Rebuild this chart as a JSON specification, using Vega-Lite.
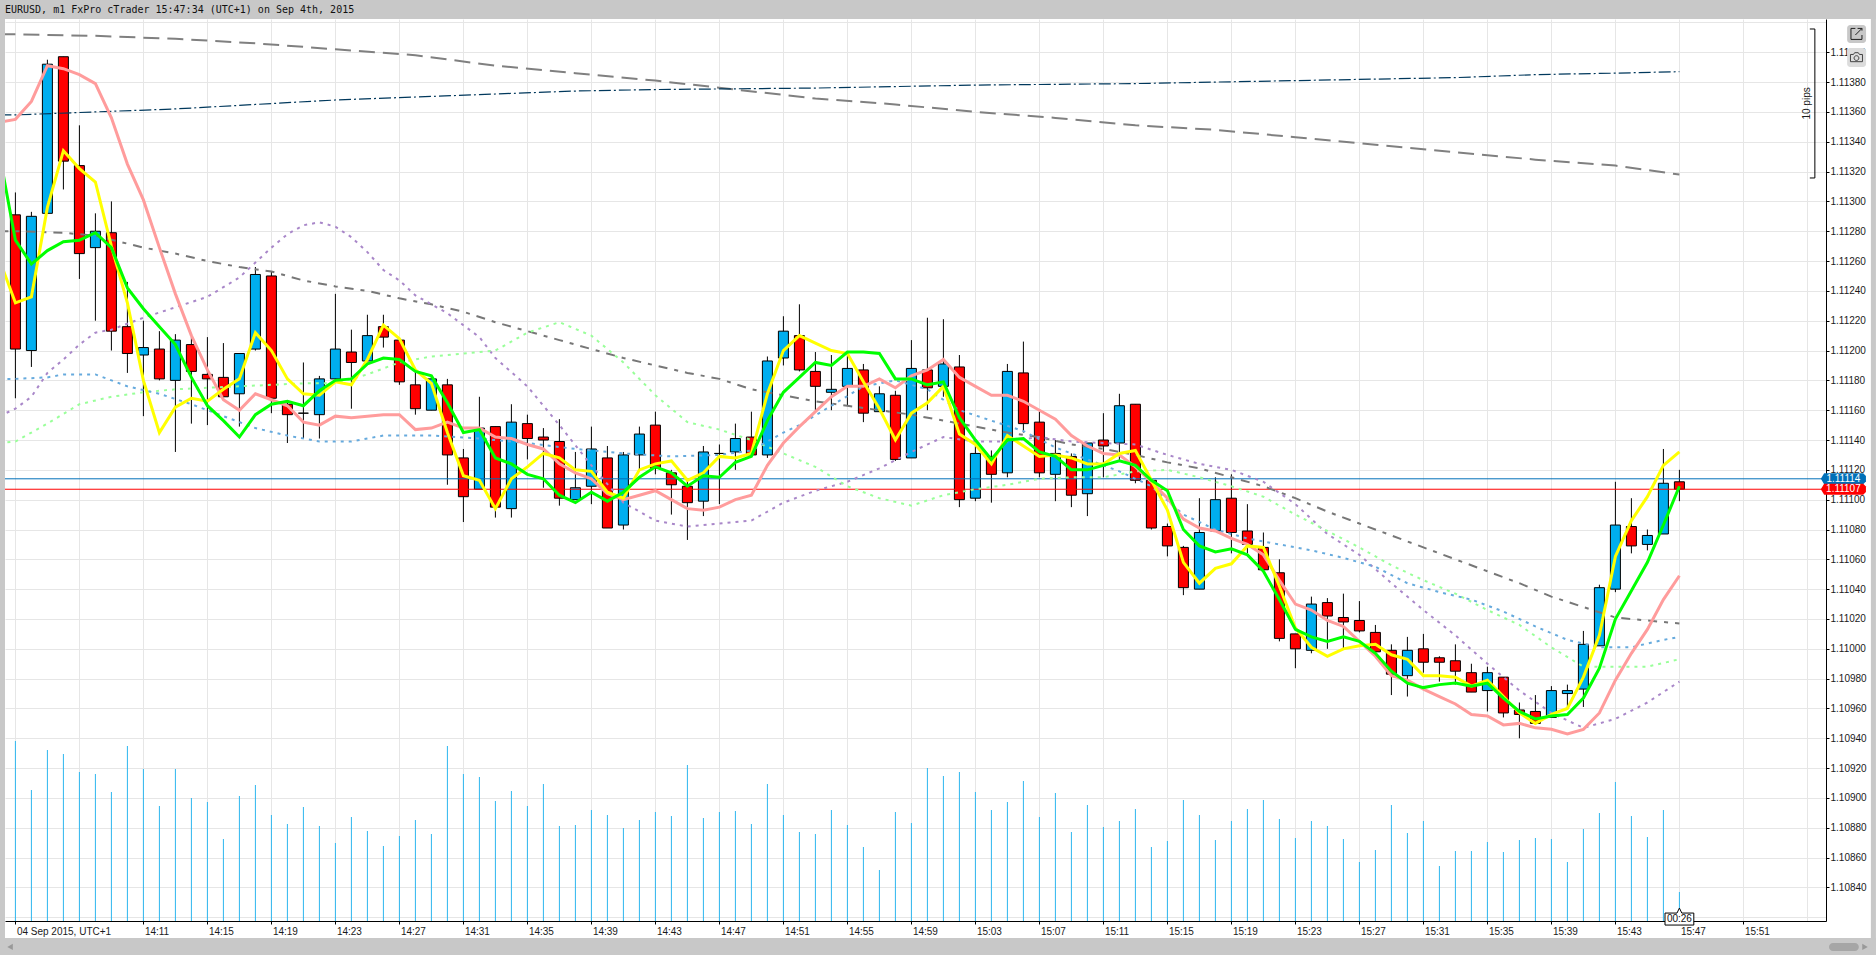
{"$schema":"https://vega.github.io/schema/vega-lite/v6.json","width":1821,"height":902,"autosize":{"type":"none"},"padding":{"left":5,"top":19,"right":50,"bottom":34},"background":"#FFFFFF","view":{"stroke":null},
"config":{"axis":{"labelFont":"Liberation Sans","labelFontSize":10,"labelColor":"#1A1A1A"}},
"datasets":{
"candles":[
{"t":"2015-09-04T14:03:00Z","open":1.11291,"high":1.11306,"low":1.11168,"close":1.11201,"volume":180},
{"t":"2015-09-04T14:04:00Z","open":1.112,"high":1.11293,"low":1.11189,"close":1.1129,"volume":131},
{"t":"2015-09-04T14:05:00Z","open":1.11292,"high":1.11395,"low":1.11292,"close":1.11392,"volume":171},
{"t":"2015-09-04T14:06:00Z","open":1.11397,"high":1.11397,"low":1.11308,"close":1.11327,"volume":167},
{"t":"2015-09-04T14:07:00Z","open":1.11324,"high":1.11351,"low":1.11248,"close":1.11265,"volume":149},
{"t":"2015-09-04T14:08:00Z","open":1.11269,"high":1.11292,"low":1.1122,"close":1.1128,"volume":147},
{"t":"2015-09-04T14:09:00Z","open":1.11279,"high":1.113,"low":1.112,"close":1.11213,"volume":129},
{"t":"2015-09-04T14:10:00Z","open":1.11216,"high":1.11246,"low":1.11185,"close":1.11198,"volume":175},
{"t":"2015-09-04T14:11:00Z","open":1.11197,"high":1.1122,"low":1.11156,"close":1.11202,"volume":152},
{"t":"2015-09-04T14:12:00Z","open":1.11201,"high":1.11213,"low":1.1118,"close":1.11181,"volume":115},
{"t":"2015-09-04T14:13:00Z","open":1.1118,"high":1.11211,"low":1.11132,"close":1.11207,"volume":152},
{"t":"2015-09-04T14:14:00Z","open":1.11204,"high":1.11209,"low":1.11151,"close":1.11186,"volume":123},
{"t":"2015-09-04T14:15:00Z","open":1.11184,"high":1.11209,"low":1.1115,"close":1.11181,"volume":119},
{"t":"2015-09-04T14:16:00Z","open":1.11182,"high":1.11205,"low":1.11168,"close":1.11169,"volume":82},
{"t":"2015-09-04T14:17:00Z","open":1.11171,"high":1.11198,"low":1.11149,"close":1.11198,"volume":125},
{"t":"2015-09-04T14:18:00Z","open":1.11201,"high":1.11256,"low":1.112,"close":1.11251,"volume":136},
{"t":"2015-09-04T14:19:00Z","open":1.1125,"high":1.11253,"low":1.11158,"close":1.11168,"volume":106},
{"t":"2015-09-04T14:20:00Z","open":1.11164,"high":1.11165,"low":1.11138,"close":1.11157,"volume":97},
{"t":"2015-09-04T14:21:00Z","open":1.11158,"high":1.11192,"low":1.11141,"close":1.11158,"volume":114},
{"t":"2015-09-04T14:22:00Z","open":1.11157,"high":1.11183,"low":1.11141,"close":1.11181,"volume":95},
{"t":"2015-09-04T14:23:00Z","open":1.11181,"high":1.11238,"low":1.11181,"close":1.11201,"volume":78},
{"t":"2015-09-04T14:24:00Z","open":1.11199,"high":1.11214,"low":1.11161,"close":1.11192,"volume":104},
{"t":"2015-09-04T14:25:00Z","open":1.11193,"high":1.11224,"low":1.11192,"close":1.1121,"volume":90},
{"t":"2015-09-04T14:26:00Z","open":1.11216,"high":1.11224,"low":1.11202,"close":1.11209,"volume":75},
{"t":"2015-09-04T14:27:00Z","open":1.11207,"high":1.11207,"low":1.11177,"close":1.11179,"volume":85},
{"t":"2015-09-04T14:28:00Z","open":1.11177,"high":1.11186,"low":1.11157,"close":1.11161,"volume":101},
{"t":"2015-09-04T14:29:00Z","open":1.1116,"high":1.11182,"low":1.1116,"close":1.11181,"volume":87},
{"t":"2015-09-04T14:30:00Z","open":1.11177,"high":1.11181,"low":1.1111,"close":1.1113,"volume":175},
{"t":"2015-09-04T14:31:00Z","open":1.11128,"high":1.11134,"low":1.11085,"close":1.11102,"volume":147},
{"t":"2015-09-04T14:32:00Z","open":1.11107,"high":1.11169,"low":1.11107,"close":1.11148,"volume":144},
{"t":"2015-09-04T14:33:00Z","open":1.11149,"high":1.11149,"low":1.11088,"close":1.11095,"volume":120},
{"t":"2015-09-04T14:34:00Z","open":1.11094,"high":1.11164,"low":1.11088,"close":1.11152,"volume":130},
{"t":"2015-09-04T14:35:00Z","open":1.11151,"high":1.11157,"low":1.11127,"close":1.11141,"volume":115},
{"t":"2015-09-04T14:36:00Z","open":1.11142,"high":1.11148,"low":1.11108,"close":1.1114,"volume":137},
{"t":"2015-09-04T14:37:00Z","open":1.11139,"high":1.11154,"low":1.11096,"close":1.11101,"volume":95},
{"t":"2015-09-04T14:38:00Z","open":1.111,"high":1.11132,"low":1.111,"close":1.11108,"volume":96},
{"t":"2015-09-04T14:39:00Z","open":1.11109,"high":1.11149,"low":1.11097,"close":1.11134,"volume":111},
{"t":"2015-09-04T14:40:00Z","open":1.11128,"high":1.11136,"low":1.11081,"close":1.11081,"volume":106},
{"t":"2015-09-04T14:41:00Z","open":1.11083,"high":1.11132,"low":1.1108,"close":1.1113,"volume":93},
{"t":"2015-09-04T14:42:00Z","open":1.1113,"high":1.11149,"low":1.11119,"close":1.11144,"volume":101},
{"t":"2015-09-04T14:43:00Z","open":1.1115,"high":1.11159,"low":1.11117,"close":1.11121,"volume":109},
{"t":"2015-09-04T14:44:00Z","open":1.11118,"high":1.1112,"low":1.1109,"close":1.1111,"volume":105},
{"t":"2015-09-04T14:45:00Z","open":1.11109,"high":1.11114,"low":1.11073,"close":1.11098,"volume":156},
{"t":"2015-09-04T14:46:00Z","open":1.11099,"high":1.11136,"low":1.11089,"close":1.11132,"volume":103},
{"t":"2015-09-04T14:47:00Z","open":1.11131,"high":1.11137,"low":1.11097,"close":1.11131,"volume":109},
{"t":"2015-09-04T14:48:00Z","open":1.11132,"high":1.11151,"low":1.1112,"close":1.11141,"volume":110},
{"t":"2015-09-04T14:49:00Z","open":1.11142,"high":1.11159,"low":1.1113,"close":1.1113,"volume":97},
{"t":"2015-09-04T14:50:00Z","open":1.1113,"high":1.11196,"low":1.11128,"close":1.11193,"volume":137},
{"t":"2015-09-04T14:51:00Z","open":1.11195,"high":1.11223,"low":1.1119,"close":1.11213,"volume":106},
{"t":"2015-09-04T14:52:00Z","open":1.1121,"high":1.11231,"low":1.11186,"close":1.11187,"volume":89},
{"t":"2015-09-04T14:53:00Z","open":1.11186,"high":1.11199,"low":1.1116,"close":1.11176,"volume":87},
{"t":"2015-09-04T14:54:00Z","open":1.11172,"high":1.11197,"low":1.1116,"close":1.11174,"volume":111},
{"t":"2015-09-04T14:55:00Z","open":1.11176,"high":1.11199,"low":1.11163,"close":1.11188,"volume":96},
{"t":"2015-09-04T14:56:00Z","open":1.11187,"high":1.11191,"low":1.11152,"close":1.11158,"volume":74},
{"t":"2015-09-04T14:57:00Z","open":1.11159,"high":1.11176,"low":1.11159,"close":1.11171,"volume":51},
{"t":"2015-09-04T14:58:00Z","open":1.1117,"high":1.11173,"low":1.11126,"close":1.11127,"volume":109},
{"t":"2015-09-04T14:59:00Z","open":1.11128,"high":1.11207,"low":1.11128,"close":1.11188,"volume":98},
{"t":"2015-09-04T15:00:00Z","open":1.11187,"high":1.11222,"low":1.1116,"close":1.11175,"volume":153},
{"t":"2015-09-04T15:01:00Z","open":1.11176,"high":1.11221,"low":1.11169,"close":1.11191,"volume":145},
{"t":"2015-09-04T15:02:00Z","open":1.11189,"high":1.11197,"low":1.11095,"close":1.111,"volume":149},
{"t":"2015-09-04T15:03:00Z","open":1.11101,"high":1.11136,"low":1.11099,"close":1.11131,"volume":129},
{"t":"2015-09-04T15:04:00Z","open":1.11129,"high":1.11133,"low":1.11098,"close":1.11117,"volume":111},
{"t":"2015-09-04T15:05:00Z","open":1.11118,"high":1.11191,"low":1.11115,"close":1.11186,"volume":119},
{"t":"2015-09-04T15:06:00Z","open":1.11185,"high":1.11206,"low":1.11145,"close":1.11151,"volume":140},
{"t":"2015-09-04T15:07:00Z","open":1.11152,"high":1.11159,"low":1.11115,"close":1.11118,"volume":104},
{"t":"2015-09-04T15:08:00Z","open":1.11117,"high":1.1114,"low":1.11099,"close":1.11131,"volume":128},
{"t":"2015-09-04T15:09:00Z","open":1.11129,"high":1.11131,"low":1.11095,"close":1.11103,"volume":89},
{"t":"2015-09-04T15:10:00Z","open":1.11104,"high":1.11138,"low":1.11089,"close":1.11138,"volume":116},
{"t":"2015-09-04T15:11:00Z","open":1.1114,"high":1.11158,"low":1.11115,"close":1.11136,"volume":94},
{"t":"2015-09-04T15:12:00Z","open":1.11138,"high":1.11171,"low":1.11126,"close":1.11163,"volume":100},
{"t":"2015-09-04T15:13:00Z","open":1.11164,"high":1.11164,"low":1.11111,"close":1.11113,"volume":112},
{"t":"2015-09-04T15:14:00Z","open":1.11113,"high":1.11113,"low":1.1108,"close":1.11081,"volume":74},
{"t":"2015-09-04T15:15:00Z","open":1.11082,"high":1.11084,"low":1.11062,"close":1.11069,"volume":80},
{"t":"2015-09-04T15:16:00Z","open":1.11068,"high":1.11069,"low":1.11036,"close":1.11041,"volume":121},
{"t":"2015-09-04T15:17:00Z","open":1.1104,"high":1.11101,"low":1.1104,"close":1.11078,"volume":106},
{"t":"2015-09-04T15:18:00Z","open":1.11079,"high":1.11115,"low":1.11079,"close":1.111,"volume":81},
{"t":"2015-09-04T15:19:00Z","open":1.11101,"high":1.11117,"low":1.11064,"close":1.11078,"volume":100},
{"t":"2015-09-04T15:20:00Z","open":1.11079,"high":1.11097,"low":1.11064,"close":1.1107,"volume":112},
{"t":"2015-09-04T15:21:00Z","open":1.11068,"high":1.11078,"low":1.11053,"close":1.11053,"volume":121},
{"t":"2015-09-04T15:22:00Z","open":1.11051,"high":1.1106,"low":1.11005,"close":1.11007,"volume":102},
{"t":"2015-09-04T15:23:00Z","open":1.1101,"high":1.1101,"low":1.10987,"close":1.11,"volume":83},
{"t":"2015-09-04T15:24:00Z","open":1.10999,"high":1.11035,"low":1.10997,"close":1.1103,"volume":100},
{"t":"2015-09-04T15:25:00Z","open":1.11031,"high":1.11034,"low":1.11,"close":1.11022,"volume":95},
{"t":"2015-09-04T15:26:00Z","open":1.11021,"high":1.11037,"low":1.11,"close":1.11018,"volume":82},
{"t":"2015-09-04T15:27:00Z","open":1.11019,"high":1.11032,"low":1.11011,"close":1.11012,"volume":59},
{"t":"2015-09-04T15:28:00Z","open":1.11011,"high":1.11016,"low":1.10998,"close":1.10998,"volume":71},
{"t":"2015-09-04T15:29:00Z","open":1.10999,"high":1.11003,"low":1.10969,"close":1.10983,"volume":116},
{"t":"2015-09-04T15:30:00Z","open":1.10982,"high":1.11008,"low":1.10968,"close":1.10999,"volume":88},
{"t":"2015-09-04T15:31:00Z","open":1.11,"high":1.1101,"low":1.10984,"close":1.10991,"volume":100},
{"t":"2015-09-04T15:32:00Z","open":1.10994,"high":1.10995,"low":1.10978,"close":1.10991,"volume":55},
{"t":"2015-09-04T15:33:00Z","open":1.10992,"high":1.11003,"low":1.10976,"close":1.10985,"volume":70},
{"t":"2015-09-04T15:34:00Z","open":1.10984,"high":1.1099,"low":1.10971,"close":1.10971,"volume":70},
{"t":"2015-09-04T15:35:00Z","open":1.10972,"high":1.10988,"low":1.10958,"close":1.10984,"volume":79},
{"t":"2015-09-04T15:36:00Z","open":1.10981,"high":1.10981,"low":1.10954,"close":1.10957,"volume":69},
{"t":"2015-09-04T15:37:00Z","open":1.10959,"high":1.10964,"low":1.1094,"close":1.10956,"volume":81},
{"t":"2015-09-04T15:38:00Z","open":1.10958,"high":1.10969,"low":1.10949,"close":1.1095,"volume":83},
{"t":"2015-09-04T15:39:00Z","open":1.10954,"high":1.10975,"low":1.10954,"close":1.10972,"volume":82},
{"t":"2015-09-04T15:40:00Z","open":1.1097,"high":1.10976,"low":1.10959,"close":1.10972,"volume":59},
{"t":"2015-09-04T15:41:00Z","open":1.10973,"high":1.11012,"low":1.10961,"close":1.11003,"volume":92},
{"t":"2015-09-04T15:42:00Z","open":1.11002,"high":1.11043,"low":1.11002,"close":1.11041,"volume":108},
{"t":"2015-09-04T15:43:00Z","open":1.1104,"high":1.11112,"low":1.11038,"close":1.11083,"volume":139},
{"t":"2015-09-04T15:44:00Z","open":1.11082,"high":1.11101,"low":1.11064,"close":1.11069,"volume":105},
{"t":"2015-09-04T15:45:00Z","open":1.1107,"high":1.1108,"low":1.11066,"close":1.11076,"volume":84},
{"t":"2015-09-04T15:46:00Z","open":1.11077,"high":1.11134,"low":1.11077,"close":1.11111,"volume":111},
{"t":"2015-09-04T15:47:00Z","open":1.11112,"high":1.1112,"low":1.11099,"close":1.11107,"volume":29}
],
"fast":[
{"t":"2015-09-04T14:02:00Z","yellow":1.11261,"green":1.11332,"salmon":1.11353},
{"t":"2015-09-04T14:03:00Z","yellow":1.11232,"green":1.11274,"salmon":1.11355},
{"t":"2015-09-04T14:04:00Z","yellow":1.11236,"green":1.11258,"salmon":1.11367},
{"t":"2015-09-04T14:05:00Z","yellow":1.11296,"green":1.11267,"salmon":1.11391},
{"t":"2015-09-04T14:06:00Z","yellow":1.11334,"green":1.11273,"salmon":1.11389},
{"t":"2015-09-04T14:07:00Z","yellow":1.11322,"green":1.11274,"salmon":1.11385},
{"t":"2015-09-04T14:08:00Z","yellow":1.11313,"green":1.11279,"salmon":1.11379},
{"t":"2015-09-04T14:09:00Z","yellow":1.1127,"green":1.11269,"salmon":1.11356},
{"t":"2015-09-04T14:10:00Z","yellow":1.11232,"green":1.11242,"salmon":1.11325},
{"t":"2015-09-04T14:11:00Z","yellow":1.1118,"green":1.11228,"salmon":1.11301},
{"t":"2015-09-04T14:12:00Z","yellow":1.11145,"green":1.11216,"salmon":1.11269},
{"t":"2015-09-04T14:13:00Z","yellow":1.11162,"green":1.11204,"salmon":1.11238},
{"t":"2015-09-04T14:14:00Z","yellow":1.11168,"green":1.11182,"salmon":1.1121},
{"t":"2015-09-04T14:15:00Z","yellow":1.11166,"green":1.11163,"salmon":1.11187},
{"t":"2015-09-04T14:16:00Z","yellow":1.11174,"green":1.11153,"salmon":1.11167},
{"t":"2015-09-04T14:17:00Z","yellow":1.11181,"green":1.11142,"salmon":1.1116},
{"t":"2015-09-04T14:18:00Z","yellow":1.11212,"green":1.11157,"salmon":1.11171},
{"t":"2015-09-04T14:19:00Z","yellow":1.112,"green":1.11164,"salmon":1.11167},
{"t":"2015-09-04T14:20:00Z","yellow":1.11181,"green":1.11166,"salmon":1.11163},
{"t":"2015-09-04T14:21:00Z","yellow":1.11171,"green":1.11163,"salmon":1.11152},
{"t":"2015-09-04T14:22:00Z","yellow":1.1117,"green":1.11173,"salmon":1.1115},
{"t":"2015-09-04T14:23:00Z","yellow":1.11179,"green":1.1118,"salmon":1.11156},
{"t":"2015-09-04T14:24:00Z","yellow":1.11177,"green":1.11181,"salmon":1.11155},
{"t":"2015-09-04T14:25:00Z","yellow":1.11194,"green":1.11191,"salmon":1.11156},
{"t":"2015-09-04T14:26:00Z","yellow":1.11217,"green":1.11195,"salmon":1.11157},
{"t":"2015-09-04T14:27:00Z","yellow":1.11208,"green":1.11194,"salmon":1.11157},
{"t":"2015-09-04T14:28:00Z","yellow":1.11187,"green":1.11186,"salmon":1.11147},
{"t":"2015-09-04T14:29:00Z","yellow":1.11178,"green":1.11183,"salmon":1.11148},
{"t":"2015-09-04T14:30:00Z","yellow":1.11145,"green":1.11165,"salmon":1.11152},
{"t":"2015-09-04T14:31:00Z","yellow":1.11116,"green":1.11145,"salmon":1.11148},
{"t":"2015-09-04T14:32:00Z","yellow":1.11113,"green":1.11147,"salmon":1.11148},
{"t":"2015-09-04T14:33:00Z","yellow":1.11094,"green":1.11128,"salmon":1.11142},
{"t":"2015-09-04T14:34:00Z","yellow":1.11114,"green":1.11124,"salmon":1.11141},
{"t":"2015-09-04T14:35:00Z","yellow":1.11122,"green":1.11117,"salmon":1.11137},
{"t":"2015-09-04T14:36:00Z","yellow":1.11131,"green":1.11114,"salmon":1.11134},
{"t":"2015-09-04T14:37:00Z","yellow":1.11128,"green":1.11103,"salmon":1.11124},
{"t":"2015-09-04T14:38:00Z","yellow":1.1112,"green":1.11098,"salmon":1.11118},
{"t":"2015-09-04T14:39:00Z","yellow":1.11119,"green":1.11105,"salmon":1.11114},
{"t":"2015-09-04T14:40:00Z","yellow":1.11105,"green":1.11099,"salmon":1.11104},
{"t":"2015-09-04T14:41:00Z","yellow":1.11101,"green":1.11105,"salmon":1.111},
{"t":"2015-09-04T14:42:00Z","yellow":1.1112,"green":1.11115,"salmon":1.11103},
{"t":"2015-09-04T14:43:00Z","yellow":1.11124,"green":1.11122,"salmon":1.11106},
{"t":"2015-09-04T14:44:00Z","yellow":1.11126,"green":1.11118,"salmon":1.111},
{"t":"2015-09-04T14:45:00Z","yellow":1.11113,"green":1.11109,"salmon":1.11094},
{"t":"2015-09-04T14:46:00Z","yellow":1.11118,"green":1.11116,"salmon":1.11093},
{"t":"2015-09-04T14:47:00Z","yellow":1.11129,"green":1.11115,"salmon":1.11095},
{"t":"2015-09-04T14:48:00Z","yellow":1.11128,"green":1.11125,"salmon":1.111},
{"t":"2015-09-04T14:49:00Z","yellow":1.11131,"green":1.11129,"salmon":1.11103},
{"t":"2015-09-04T14:50:00Z","yellow":1.11171,"green":1.11153,"salmon":1.11123},
{"t":"2015-09-04T14:51:00Z","yellow":1.112,"green":1.11172,"salmon":1.11138},
{"t":"2015-09-04T14:52:00Z","yellow":1.1121,"green":1.11182,"salmon":1.11149},
{"t":"2015-09-04T14:53:00Z","yellow":1.11205,"green":1.11192,"salmon":1.11159},
{"t":"2015-09-04T14:54:00Z","yellow":1.112,"green":1.1119,"salmon":1.11169},
{"t":"2015-09-04T14:55:00Z","yellow":1.11198,"green":1.11199,"salmon":1.11176},
{"t":"2015-09-04T14:56:00Z","yellow":1.11179,"green":1.11199,"salmon":1.11176},
{"t":"2015-09-04T14:57:00Z","yellow":1.11161,"green":1.11198,"salmon":1.11181},
{"t":"2015-09-04T14:58:00Z","yellow":1.1114,"green":1.11181,"salmon":1.11175},
{"t":"2015-09-04T14:59:00Z","yellow":1.11158,"green":1.11181,"salmon":1.11183},
{"t":"2015-09-04T15:00:00Z","yellow":1.11165,"green":1.11177,"salmon":1.11187},
{"t":"2015-09-04T15:01:00Z","yellow":1.11176,"green":1.11179,"salmon":1.11194},
{"t":"2015-09-04T15:02:00Z","yellow":1.11144,"green":1.11155,"salmon":1.11182},
{"t":"2015-09-04T15:03:00Z","yellow":1.11137,"green":1.1114,"salmon":1.11176},
{"t":"2015-09-04T15:04:00Z","yellow":1.11124,"green":1.11127,"salmon":1.1117},
{"t":"2015-09-04T15:05:00Z","yellow":1.11143,"green":1.1114,"salmon":1.1117},
{"t":"2015-09-04T15:06:00Z","yellow":1.11136,"green":1.11141,"salmon":1.11166},
{"t":"2015-09-04T15:07:00Z","yellow":1.11129,"green":1.11132,"salmon":1.1116},
{"t":"2015-09-04T15:08:00Z","yellow":1.1113,"green":1.11129,"salmon":1.11154},
{"t":"2015-09-04T15:09:00Z","yellow":1.11128,"green":1.1112,"salmon":1.11143},
{"t":"2015-09-04T15:10:00Z","yellow":1.11124,"green":1.1112,"salmon":1.11136},
{"t":"2015-09-04T15:11:00Z","yellow":1.11124,"green":1.11123,"salmon":1.11131},
{"t":"2015-09-04T15:12:00Z","yellow":1.11131,"green":1.11126,"salmon":1.1113},
{"t":"2015-09-04T15:13:00Z","yellow":1.11133,"green":1.11123,"salmon":1.11122},
{"t":"2015-09-04T15:14:00Z","yellow":1.11113,"green":1.11113,"salmon":1.11112},
{"t":"2015-09-04T15:15:00Z","yellow":1.11093,"green":1.11106,"salmon":1.11101},
{"t":"2015-09-04T15:16:00Z","yellow":1.11058,"green":1.1108,"salmon":1.11087},
{"t":"2015-09-04T15:17:00Z","yellow":1.11044,"green":1.11069,"salmon":1.11081},
{"t":"2015-09-04T15:18:00Z","yellow":1.11054,"green":1.11065,"salmon":1.11079},
{"t":"2015-09-04T15:19:00Z","yellow":1.11057,"green":1.11067,"salmon":1.11074},
{"t":"2015-09-04T15:20:00Z","yellow":1.11069,"green":1.11063,"salmon":1.1107},
{"t":"2015-09-04T15:21:00Z","yellow":1.11068,"green":1.11052,"salmon":1.11063},
{"t":"2015-09-04T15:22:00Z","yellow":1.11042,"green":1.11033,"salmon":1.11046},
{"t":"2015-09-04T15:23:00Z","yellow":1.11014,"green":1.11013,"salmon":1.1103},
{"t":"2015-09-04T15:24:00Z","yellow":1.11001,"green":1.11008,"salmon":1.11026},
{"t":"2015-09-04T15:25:00Z","yellow":1.10995,"green":1.11005,"salmon":1.11019},
{"t":"2015-09-04T15:26:00Z","yellow":1.11,"green":1.11008,"salmon":1.11015},
{"t":"2015-09-04T15:27:00Z","yellow":1.11002,"green":1.11005,"salmon":1.11005},
{"t":"2015-09-04T15:28:00Z","yellow":1.11003,"green":1.10997,"salmon":1.10995},
{"t":"2015-09-04T15:29:00Z","yellow":1.10996,"green":1.10985,"salmon":1.10982},
{"t":"2015-09-04T15:30:00Z","yellow":1.10993,"green":1.10977,"salmon":1.10979},
{"t":"2015-09-04T15:31:00Z","yellow":1.10982,"green":1.10974,"salmon":1.10973},
{"t":"2015-09-04T15:32:00Z","yellow":1.10982,"green":1.10976,"salmon":1.10968},
{"t":"2015-09-04T15:33:00Z","yellow":1.10981,"green":1.10977,"salmon":1.10963},
{"t":"2015-09-04T15:34:00Z","yellow":1.10975,"green":1.10975,"salmon":1.10956},
{"t":"2015-09-04T15:35:00Z","yellow":1.10979,"green":1.10977,"salmon":1.10955},
{"t":"2015-09-04T15:36:00Z","yellow":1.10968,"green":1.10967,"salmon":1.10949},
{"t":"2015-09-04T15:37:00Z","yellow":1.10957,"green":1.10958,"salmon":1.1095},
{"t":"2015-09-04T15:38:00Z","yellow":1.1095,"green":1.10953,"salmon":1.10947},
{"t":"2015-09-04T15:39:00Z","yellow":1.10956,"green":1.10955,"salmon":1.10946},
{"t":"2015-09-04T15:40:00Z","yellow":1.1096,"green":1.10956,"salmon":1.10943},
{"t":"2015-09-04T15:41:00Z","yellow":1.10981,"green":1.10967,"salmon":1.10946},
{"t":"2015-09-04T15:42:00Z","yellow":1.11009,"green":1.10987,"salmon":1.10957},
{"t":"2015-09-04T15:43:00Z","yellow":1.11062,"green":1.1102,"salmon":1.10979},
{"t":"2015-09-04T15:44:00Z","yellow":1.11086,"green":1.11039,"salmon":1.10997},
{"t":"2015-09-04T15:45:00Z","yellow":1.11102,"green":1.11058,"salmon":1.11013},
{"t":"2015-09-04T15:46:00Z","yellow":1.11123,"green":1.11083,"salmon":1.11033},
{"t":"2015-09-04T15:47:00Z","yellow":1.11132,"green":1.11109,"salmon":1.11049}
],
"gray1":[{"t":"2015-09-04T14:02:00Z","p":1.11412},{"t":"2015-09-04T14:03:00Z","p":1.11412},{"t":"2015-09-04T14:08:00Z","p":1.11411},{"t":"2015-09-04T14:13:00Z","p":1.11409},{"t":"2015-09-04T14:18:00Z","p":1.11406},{"t":"2015-09-04T14:23:00Z","p":1.11402},{"t":"2015-09-04T14:28:00Z","p":1.11398},{"t":"2015-09-04T14:33:00Z","p":1.11391},{"t":"2015-09-04T14:38:00Z","p":1.11386},{"t":"2015-09-04T14:43:00Z","p":1.11381},{"t":"2015-09-04T14:48:00Z","p":1.11375},{"t":"2015-09-04T14:53:00Z","p":1.11369},{"t":"2015-09-04T14:58:00Z","p":1.11365},{"t":"2015-09-04T15:03:00Z","p":1.1136},{"t":"2015-09-04T15:08:00Z","p":1.11356},{"t":"2015-09-04T15:13:00Z","p":1.11351},{"t":"2015-09-04T15:18:00Z","p":1.11348},{"t":"2015-09-04T15:23:00Z","p":1.11343},{"t":"2015-09-04T15:28:00Z","p":1.11338},{"t":"2015-09-04T15:33:00Z","p":1.11333},{"t":"2015-09-04T15:38:00Z","p":1.11328},{"t":"2015-09-04T15:43:00Z","p":1.11324},{"t":"2015-09-04T15:47:00Z","p":1.11318}],
"navy":[{"t":"2015-09-04T14:02:00Z","p":1.11358},{"t":"2015-09-04T14:03:00Z","p":1.11358},{"t":"2015-09-04T14:08:00Z","p":1.1136},{"t":"2015-09-04T14:13:00Z","p":1.11362},{"t":"2015-09-04T14:18:00Z","p":1.11365},{"t":"2015-09-04T14:23:00Z","p":1.11368},{"t":"2015-09-04T14:28:00Z","p":1.1137},{"t":"2015-09-04T14:33:00Z","p":1.11372},{"t":"2015-09-04T14:38:00Z","p":1.11374},{"t":"2015-09-04T14:43:00Z","p":1.11375},{"t":"2015-09-04T14:53:00Z","p":1.11376},{"t":"2015-09-04T15:03:00Z","p":1.11378},{"t":"2015-09-04T15:13:00Z","p":1.11379},{"t":"2015-09-04T15:23:00Z","p":1.11381},{"t":"2015-09-04T15:33:00Z","p":1.11383},{"t":"2015-09-04T15:38:00Z","p":1.11385},{"t":"2015-09-04T15:43:00Z","p":1.11386},{"t":"2015-09-04T15:47:00Z","p":1.11387}],
"gray2":[{"t":"2015-09-04T14:02:00Z","p":1.1128},{"t":"2015-09-04T14:03:00Z","p":1.1128},{"t":"2015-09-04T14:06:00Z","p":1.11279},{"t":"2015-09-04T14:08:00Z","p":1.11277},{"t":"2015-09-04T14:11:00Z","p":1.11269},{"t":"2015-09-04T14:13:00Z","p":1.11265},{"t":"2015-09-04T14:15:00Z","p":1.1126},{"t":"2015-09-04T14:17:00Z","p":1.11256},{"t":"2015-09-04T14:19:00Z","p":1.11253},{"t":"2015-09-04T14:21:00Z","p":1.11247},{"t":"2015-09-04T14:23:00Z","p":1.11243},{"t":"2015-09-04T14:25:00Z","p":1.1124},{"t":"2015-09-04T14:27:00Z","p":1.11235},{"t":"2015-09-04T14:29:00Z","p":1.11231},{"t":"2015-09-04T14:31:00Z","p":1.11226},{"t":"2015-09-04T14:33:00Z","p":1.11219},{"t":"2015-09-04T14:35:00Z","p":1.11213},{"t":"2015-09-04T14:37:00Z","p":1.11207},{"t":"2015-09-04T14:39:00Z","p":1.11201},{"t":"2015-09-04T14:41:00Z","p":1.11195},{"t":"2015-09-04T14:43:00Z","p":1.1119},{"t":"2015-09-04T14:45:00Z","p":1.11185},{"t":"2015-09-04T14:47:00Z","p":1.11181},{"t":"2015-09-04T14:49:00Z","p":1.11174},{"t":"2015-09-04T14:51:00Z","p":1.1117},{"t":"2015-09-04T14:53:00Z","p":1.11166},{"t":"2015-09-04T14:55:00Z","p":1.11163},{"t":"2015-09-04T14:57:00Z","p":1.1116},{"t":"2015-09-04T14:59:00Z","p":1.11157},{"t":"2015-09-04T15:01:00Z","p":1.11153},{"t":"2015-09-04T15:03:00Z","p":1.11149},{"t":"2015-09-04T15:05:00Z","p":1.11145},{"t":"2015-09-04T15:07:00Z","p":1.11142},{"t":"2015-09-04T15:09:00Z","p":1.11137},{"t":"2015-09-04T15:11:00Z","p":1.11134},{"t":"2015-09-04T15:13:00Z","p":1.1113},{"t":"2015-09-04T15:15:00Z","p":1.11125},{"t":"2015-09-04T15:17:00Z","p":1.11121},{"t":"2015-09-04T15:19:00Z","p":1.11115},{"t":"2015-09-04T15:21:00Z","p":1.11109},{"t":"2015-09-04T15:23:00Z","p":1.11101},{"t":"2015-09-04T15:25:00Z","p":1.11092},{"t":"2015-09-04T15:27:00Z","p":1.11084},{"t":"2015-09-04T15:29:00Z","p":1.11076},{"t":"2015-09-04T15:31:00Z","p":1.11068},{"t":"2015-09-04T15:33:00Z","p":1.1106},{"t":"2015-09-04T15:35:00Z","p":1.11052},{"t":"2015-09-04T15:37:00Z","p":1.11044},{"t":"2015-09-04T15:39:00Z","p":1.11035},{"t":"2015-09-04T15:41:00Z","p":1.11028},{"t":"2015-09-04T15:43:00Z","p":1.11021},{"t":"2015-09-04T15:45:00Z","p":1.11019},{"t":"2015-09-04T15:47:00Z","p":1.11017}],
"purple":[{"t":"2015-09-04T14:02:00Z","p":1.11156},{"t":"2015-09-04T14:03:00Z","p":1.11161},{"t":"2015-09-04T14:04:00Z","p":1.11169},{"t":"2015-09-04T14:05:00Z","p":1.11185},{"t":"2015-09-04T14:06:00Z","p":1.11194},{"t":"2015-09-04T14:07:00Z","p":1.11204},{"t":"2015-09-04T14:08:00Z","p":1.11212},{"t":"2015-09-04T14:09:00Z","p":1.11214},{"t":"2015-09-04T14:11:00Z","p":1.11222},{"t":"2015-09-04T14:13:00Z","p":1.11229},{"t":"2015-09-04T14:15:00Z","p":1.11236},{"t":"2015-09-04T14:17:00Z","p":1.11249},{"t":"2015-09-04T14:18:00Z","p":1.11259},{"t":"2015-09-04T14:19:00Z","p":1.11269},{"t":"2015-09-04T14:20:00Z","p":1.11278},{"t":"2015-09-04T14:21:00Z","p":1.11284},{"t":"2015-09-04T14:22:00Z","p":1.11286},{"t":"2015-09-04T14:23:00Z","p":1.11283},{"t":"2015-09-04T14:24:00Z","p":1.11276},{"t":"2015-09-04T14:25:00Z","p":1.11266},{"t":"2015-09-04T14:26:00Z","p":1.11254},{"t":"2015-09-04T14:27:00Z","p":1.11247},{"t":"2015-09-04T14:28:00Z","p":1.11237},{"t":"2015-09-04T14:29:00Z","p":1.11231},{"t":"2015-09-04T14:30:00Z","p":1.11225},{"t":"2015-09-04T14:31:00Z","p":1.11217},{"t":"2015-09-04T14:32:00Z","p":1.11209},{"t":"2015-09-04T14:33:00Z","p":1.11195},{"t":"2015-09-04T14:35:00Z","p":1.11176},{"t":"2015-09-04T14:37:00Z","p":1.1115},{"t":"2015-09-04T14:39:00Z","p":1.11123},{"t":"2015-09-04T14:41:00Z","p":1.11098},{"t":"2015-09-04T14:43:00Z","p":1.11086},{"t":"2015-09-04T14:45:00Z","p":1.11082},{"t":"2015-09-04T14:47:00Z","p":1.11084},{"t":"2015-09-04T14:49:00Z","p":1.11086},{"t":"2015-09-04T14:51:00Z","p":1.11098},{"t":"2015-09-04T14:53:00Z","p":1.11106},{"t":"2015-09-04T14:55:00Z","p":1.11112},{"t":"2015-09-04T14:57:00Z","p":1.11121},{"t":"2015-09-04T14:59:00Z","p":1.11132},{"t":"2015-09-04T15:01:00Z","p":1.11142},{"t":"2015-09-04T15:03:00Z","p":1.11139},{"t":"2015-09-04T15:05:00Z","p":1.11139},{"t":"2015-09-04T15:07:00Z","p":1.11142},{"t":"2015-09-04T15:09:00Z","p":1.11139},{"t":"2015-09-04T15:11:00Z","p":1.11138},{"t":"2015-09-04T15:13:00Z","p":1.11137},{"t":"2015-09-04T15:15:00Z","p":1.1113},{"t":"2015-09-04T15:17:00Z","p":1.11124},{"t":"2015-09-04T15:19:00Z","p":1.1112},{"t":"2015-09-04T15:21:00Z","p":1.11112},{"t":"2015-09-04T15:23:00Z","p":1.11097},{"t":"2015-09-04T15:25:00Z","p":1.11077},{"t":"2015-09-04T15:27:00Z","p":1.11063},{"t":"2015-09-04T15:29:00Z","p":1.11044},{"t":"2015-09-04T15:31:00Z","p":1.11026},{"t":"2015-09-04T15:33:00Z","p":1.11009},{"t":"2015-09-04T15:35:00Z","p":1.1099},{"t":"2015-09-04T15:37:00Z","p":1.10972},{"t":"2015-09-04T15:39:00Z","p":1.10957},{"t":"2015-09-04T15:41:00Z","p":1.10947},{"t":"2015-09-04T15:43:00Z","p":1.10953},{"t":"2015-09-04T15:45:00Z","p":1.10964},{"t":"2015-09-04T15:47:00Z","p":1.10978}],
"lime":[{"t":"2015-09-04T14:02:00Z","p":1.11138},{"t":"2015-09-04T14:03:00Z","p":1.11139},{"t":"2015-09-04T14:05:00Z","p":1.11151},{"t":"2015-09-04T14:07:00Z","p":1.11164},{"t":"2015-09-04T14:09:00Z","p":1.11169},{"t":"2015-09-04T14:11:00Z","p":1.11172},{"t":"2015-09-04T14:13:00Z","p":1.11174},{"t":"2015-09-04T14:15:00Z","p":1.11175},{"t":"2015-09-04T14:17:00Z","p":1.11176},{"t":"2015-09-04T14:19:00Z","p":1.11177},{"t":"2015-09-04T14:21:00Z","p":1.11178},{"t":"2015-09-04T14:23:00Z","p":1.11178},{"t":"2015-09-04T14:25:00Z","p":1.11184},{"t":"2015-09-04T14:27:00Z","p":1.11192},{"t":"2015-09-04T14:29:00Z","p":1.11196},{"t":"2015-09-04T14:31:00Z","p":1.11198},{"t":"2015-09-04T14:33:00Z","p":1.112},{"t":"2015-09-04T14:35:00Z","p":1.11212},{"t":"2015-09-04T14:37:00Z","p":1.11219},{"t":"2015-09-04T14:39:00Z","p":1.1121},{"t":"2015-09-04T14:41:00Z","p":1.11192},{"t":"2015-09-04T14:43:00Z","p":1.1117},{"t":"2015-09-04T14:45:00Z","p":1.11152},{"t":"2015-09-04T14:47:00Z","p":1.11147},{"t":"2015-09-04T14:49:00Z","p":1.1114},{"t":"2015-09-04T14:51:00Z","p":1.11131},{"t":"2015-09-04T14:53:00Z","p":1.11122},{"t":"2015-09-04T14:55:00Z","p":1.11109},{"t":"2015-09-04T14:57:00Z","p":1.11101},{"t":"2015-09-04T14:59:00Z","p":1.11096},{"t":"2015-09-04T15:01:00Z","p":1.11103},{"t":"2015-09-04T15:03:00Z","p":1.11107},{"t":"2015-09-04T15:05:00Z","p":1.1111},{"t":"2015-09-04T15:07:00Z","p":1.11114},{"t":"2015-09-04T15:09:00Z","p":1.11115},{"t":"2015-09-04T15:11:00Z","p":1.11115},{"t":"2015-09-04T15:13:00Z","p":1.11119},{"t":"2015-09-04T15:15:00Z","p":1.1112},{"t":"2015-09-04T15:17:00Z","p":1.11115},{"t":"2015-09-04T15:19:00Z","p":1.11109},{"t":"2015-09-04T15:21:00Z","p":1.11102},{"t":"2015-09-04T15:23:00Z","p":1.1109},{"t":"2015-09-04T15:25:00Z","p":1.11079},{"t":"2015-09-04T15:27:00Z","p":1.11068},{"t":"2015-09-04T15:29:00Z","p":1.11056},{"t":"2015-09-04T15:31:00Z","p":1.11046},{"t":"2015-09-04T15:33:00Z","p":1.11037},{"t":"2015-09-04T15:35:00Z","p":1.11026},{"t":"2015-09-04T15:37:00Z","p":1.11016},{"t":"2015-09-04T15:39:00Z","p":1.11001},{"t":"2015-09-04T15:41:00Z","p":1.10988},{"t":"2015-09-04T15:43:00Z","p":1.10988},{"t":"2015-09-04T15:45:00Z","p":1.10988},{"t":"2015-09-04T15:47:00Z","p":1.10993}],
"sky":[{"t":"2015-09-04T14:02:00Z","p":1.11181},{"t":"2015-09-04T14:03:00Z","p":1.11181},{"t":"2015-09-04T14:05:00Z","p":1.11182},{"t":"2015-09-04T14:06:00Z","p":1.11184},{"t":"2015-09-04T14:08:00Z","p":1.11184},{"t":"2015-09-04T14:10:00Z","p":1.11176},{"t":"2015-09-04T14:12:00Z","p":1.11171},{"t":"2015-09-04T14:14:00Z","p":1.11164},{"t":"2015-09-04T14:16:00Z","p":1.11156},{"t":"2015-09-04T14:18:00Z","p":1.11148},{"t":"2015-09-04T14:20:00Z","p":1.11143},{"t":"2015-09-04T14:22:00Z","p":1.11139},{"t":"2015-09-04T14:24:00Z","p":1.11139},{"t":"2015-09-04T14:26:00Z","p":1.11143},{"t":"2015-09-04T14:29:00Z","p":1.11143},{"t":"2015-09-04T14:32:00Z","p":1.11141},{"t":"2015-09-04T14:35:00Z","p":1.11138},{"t":"2015-09-04T14:38:00Z","p":1.11134},{"t":"2015-09-04T14:41:00Z","p":1.11131},{"t":"2015-09-04T14:44:00Z","p":1.11129},{"t":"2015-09-04T14:47:00Z","p":1.1113},{"t":"2015-09-04T14:49:00Z","p":1.11133},{"t":"2015-09-04T14:50:00Z","p":1.11139},{"t":"2015-09-04T14:51:00Z","p":1.11145},{"t":"2015-09-04T14:52:00Z","p":1.1115},{"t":"2015-09-04T14:54:00Z","p":1.11163},{"t":"2015-09-04T14:56:00Z","p":1.11176},{"t":"2015-09-04T14:58:00Z","p":1.1118},{"t":"2015-09-04T15:00:00Z","p":1.11174},{"t":"2015-09-04T15:02:00Z","p":1.1116},{"t":"2015-09-04T15:04:00Z","p":1.11153},{"t":"2015-09-04T15:06:00Z","p":1.11146},{"t":"2015-09-04T15:08:00Z","p":1.11135},{"t":"2015-09-04T15:10:00Z","p":1.11127},{"t":"2015-09-04T15:12:00Z","p":1.11119},{"t":"2015-09-04T15:14:00Z","p":1.11109},{"t":"2015-09-04T15:16:00Z","p":1.1109},{"t":"2015-09-04T15:18:00Z","p":1.1108},{"t":"2015-09-04T15:20:00Z","p":1.11074},{"t":"2015-09-04T15:22:00Z","p":1.1107},{"t":"2015-09-04T15:24:00Z","p":1.11066},{"t":"2015-09-04T15:26:00Z","p":1.11061},{"t":"2015-09-04T15:28:00Z","p":1.11055},{"t":"2015-09-04T15:30:00Z","p":1.11044},{"t":"2015-09-04T15:32:00Z","p":1.11038},{"t":"2015-09-04T15:34:00Z","p":1.11033},{"t":"2015-09-04T15:36:00Z","p":1.11025},{"t":"2015-09-04T15:38:00Z","p":1.11015},{"t":"2015-09-04T15:40:00Z","p":1.11006},{"t":"2015-09-04T15:42:00Z","p":1.11001},{"t":"2015-09-04T15:44:00Z","p":1.11001},{"t":"2015-09-04T15:46:00Z","p":1.11006},{"t":"2015-09-04T15:47:00Z","p":1.11008}],
"quotes":[{"label":"1.11114","p":1.11114,"tag":"#0070B8"},{"label":"1.11107","p":1.11107,"tag":"#FF0000"}]
},
"layer":[
{"data":{"name":"candles"},"mark":{"type":"rule","color":"#000000","strokeWidth":1},"encoding":{"x":{"field":"t","type":"temporal","scale":{"type":"utc","domain":[1441375341000,1441382169750],"nice":false,"padding":0},
"axis":{"orient":"bottom","title":null,"values":[1441375380000,1441375500000,1441375620000,1441375740000,1441375860000,1441375980000,1441376100000,1441376220000,1441376340000,1441376460000,1441376580000,1441376700000,1441376820000,1441376940000,1441377060000,1441377180000,1441377300000,1441377420000,1441377540000,1441377660000,1441377780000,1441377900000,1441378020000,1441378140000,1441378260000,1441378380000,1441378500000,1441378620000,1441378740000,1441378860000,1441378980000,1441379100000,1441379220000,1441379340000,1441379460000,1441379580000,1441379700000,1441379820000,1441379940000,1441380060000,1441380180000,1441380300000,1441380420000,1441380540000,1441380660000,1441380780000,1441380900000,1441381020000,1441381140000,1441381260000,1441381380000,1441381500000,1441381620000,1441381740000,1441381860000,1441381980000,1441382100000],
"grid":true,"gridColor":"#E6E6E6","gridWidth":1,"domainColor":"#000000","domainWidth":1,"tickColor":"#000000","tickSize":3,"labelPadding":2,"labelAlign":"left","labelBaseline":"top","labelOffset":1,"labelOverlap":false,"labelFlush":false,"labelBound":false,
"tickOpacity":{"condition":{"test":"(utchours(datum.value)*60+utcminutes(datum.value))%4==3 && (utchours(datum.value)*60+utcminutes(datum.value))!=847 && (utchours(datum.value)*60+utcminutes(datum.value))<=951","value":1},"value":0},
"labelExpr":"(utchours(datum.value)*60+utcminutes(datum.value))==843 ? '04 Sep 2015, UTC+1' : ((utchours(datum.value)*60+utcminutes(datum.value))%4==3 && (utchours(datum.value)*60+utcminutes(datum.value))!=847 && (utchours(datum.value)*60+utcminutes(datum.value))<=951 ? utcFormat(datum.value,'%H:%M') : '')"}},
"y":{"field":"low","type":"quantitative","scale":{"domain":[1.108175,1.114223],"nice":false,"zero":false},
"axis":{"orient":"right","title":null,"values":[1.1082,1.1084,1.1086,1.1088,1.109,1.1092,1.1094,1.1096,1.1098,1.11,1.1102,1.1104,1.1106,1.1108,1.111,1.1112,1.1114,1.1116,1.1118,1.112,1.1122,1.1124,1.1126,1.1128,1.113,1.1132,1.1134,1.1136,1.1138,1.114,1.1142],"grid":true,"gridColor":"#E6E6E6","gridWidth":1,"domainColor":"#000000","domainWidth":1,"tickColor":"#000000","tickSize":3,"labelPadding":1,"labelOverlap":false,"labelBound":false,"labelFlush":false,
"tickOpacity":{"condition":{"test":"datum.value>1.1083 && datum.value<1.1141","value":1},"value":0},
"labelExpr":"datum.value>1.1083 && datum.value<1.1141 ? format(datum.value,'.5f') : ''"}},"y2":{"field":"high"}}},
{"data":{"name":"candles"},"mark":{"type":"bar","size":1,"color":"#2DB6EF"},"encoding":{"x":{"field":"t","type":"temporal","axis":{"title":null},"scale":{"type":"utc","domain":[1441375341000,1441382169750],"nice":false,"padding":0}},"y":{"field":"volume","type":"quantitative","scale":{"domain":[0,902],"nice":false},"axis":null}}},
{"data":{"name":"candles"},"mark":{"type":"bar","size":10,"stroke":"#000000","strokeWidth":1},"encoding":{"x":{"field":"t","type":"temporal","axis":{"title":null},"scale":{"type":"utc","domain":[1441375341000,1441382169750],"nice":false,"padding":0}},"y":{"field":"open","type":"quantitative","axis":null,"scale":{"domain":[1.108175,1.114223],"nice":false,"zero":false}},"y2":{"field":"close"},"fill":{"condition":{"test":"datum.close>datum.open","value":"#00AEEF"},"value":"#FF0000"}}},
{"data":{"name":"quotes"},"mark":{"type":"rule","strokeWidth":1},"encoding":{"x":{"datum":1441375341000,"type":"temporal","axis":{"title":null},"scale":{"type":"utc","domain":[1441375341000,1441382169750],"nice":false,"padding":0}},"x2":{"datum":1441382169750},"y":{"field":"p","type":"quantitative","axis":null,"scale":{"domain":[1.108175,1.114223],"nice":false,"zero":false}},"color":{"field":"tag","type":"nominal","scale":null}}},
{"data":{"name":"gray1"},"mark":{"type":"line","clip":true,"color":"#808080","strokeWidth":2,"strokeDash":[16,8]},"encoding":{"x":{"field":"t","type":"temporal","axis":{"title":null},"scale":{"type":"utc","domain":[1441375341000,1441382169750],"nice":false,"padding":0}},"y":{"field":"p","type":"quantitative","axis":null,"scale":{"domain":[1.108175,1.114223],"nice":false,"zero":false}}}},
{"data":{"name":"navy"},"mark":{"type":"line","clip":true,"color":"#00385C","strokeWidth":1.2,"strokeDash":[12,3,2,3]},"encoding":{"x":{"field":"t","type":"temporal","axis":{"title":null},"scale":{"type":"utc","domain":[1441375341000,1441382169750],"nice":false,"padding":0}},"y":{"field":"p","type":"quantitative","axis":null,"scale":{"domain":[1.108175,1.114223],"nice":false,"zero":false}}}},
{"data":{"name":"gray2"},"mark":{"type":"line","clip":true,"color":"#777777","strokeWidth":2,"strokeDash":[9,7,4,7]},"encoding":{"x":{"field":"t","type":"temporal","axis":{"title":null},"scale":{"type":"utc","domain":[1441375341000,1441382169750],"nice":false,"padding":0}},"y":{"field":"p","type":"quantitative","axis":null,"scale":{"domain":[1.108175,1.114223],"nice":false,"zero":false}}}},
{"data":{"name":"purple"},"mark":{"type":"line","clip":true,"color":"#A987C9","strokeWidth":2,"strokeDash":[3,5]},"encoding":{"x":{"field":"t","type":"temporal","axis":{"title":null},"scale":{"type":"utc","domain":[1441375341000,1441382169750],"nice":false,"padding":0}},"y":{"field":"p","type":"quantitative","axis":null,"scale":{"domain":[1.108175,1.114223],"nice":false,"zero":false}}}},
{"data":{"name":"lime"},"mark":{"type":"line","clip":true,"color":"#99FF99","strokeWidth":2,"strokeDash":[3,5]},"encoding":{"x":{"field":"t","type":"temporal","axis":{"title":null},"scale":{"type":"utc","domain":[1441375341000,1441382169750],"nice":false,"padding":0}},"y":{"field":"p","type":"quantitative","axis":null,"scale":{"domain":[1.108175,1.114223],"nice":false,"zero":false}}}},
{"data":{"name":"sky"},"mark":{"type":"line","clip":true,"color":"#66AADD","strokeWidth":2,"strokeDash":[3,5]},"encoding":{"x":{"field":"t","type":"temporal","axis":{"title":null},"scale":{"type":"utc","domain":[1441375341000,1441382169750],"nice":false,"padding":0}},"y":{"field":"p","type":"quantitative","axis":null,"scale":{"domain":[1.108175,1.114223],"nice":false,"zero":false}}}},
{"data":{"name":"fast"},"mark":{"type":"line","clip":true,"color":"#FF9C9C","strokeWidth":3},"encoding":{"x":{"field":"t","type":"temporal","axis":{"title":null},"scale":{"type":"utc","domain":[1441375341000,1441382169750],"nice":false,"padding":0}},"y":{"field":"salmon","type":"quantitative","axis":null,"scale":{"domain":[1.108175,1.114223],"nice":false,"zero":false}}}},
{"data":{"name":"fast"},"mark":{"type":"line","clip":true,"color":"#FFFF00","strokeWidth":3},"encoding":{"x":{"field":"t","type":"temporal","axis":{"title":null},"scale":{"type":"utc","domain":[1441375341000,1441382169750],"nice":false,"padding":0}},"y":{"field":"yellow","type":"quantitative","axis":null,"scale":{"domain":[1.108175,1.114223],"nice":false,"zero":false}}}},
{"data":{"name":"fast"},"mark":{"type":"line","clip":true,"color":"#00FF00","strokeWidth":3},"encoding":{"x":{"field":"t","type":"temporal","axis":{"title":null},"scale":{"type":"utc","domain":[1441375341000,1441382169750],"nice":false,"padding":0}},"y":{"field":"green","type":"quantitative","axis":null,"scale":{"domain":[1.108175,1.114223],"nice":false,"zero":false}}}},
{"data":{"values":[{}]},"mark":{"type":"rect","color":"#C8C8C8"},"encoding":{"x":{"datum":1441375322000,"type":"temporal","axis":{"title":null},"scale":{"type":"utc","domain":[1441375341000,1441382169750],"nice":false,"padding":0}},"x2":{"datum":1441382357000},"y":{"datum":1.114351,"type":"quantitative","axis":null,"scale":{"domain":[1.108175,1.114223],"nice":false,"zero":false}},"y2":{"datum":1.114223}}},
{"data":{"values":[{}]},"mark":{"type":"rect","color":"#C8C8C8"},"encoding":{"x":{"datum":1441375322000,"type":"temporal","axis":{"title":null},"scale":{"type":"utc","domain":[1441375341000,1441382169750],"nice":false,"padding":0}},"x2":{"datum":1441382357000},"y":{"datum":1.108061,"type":"quantitative","axis":null,"scale":{"domain":[1.108175,1.114223],"nice":false,"zero":false}},"y2":{"datum":1.107947}}},
{"data":{"values":[{}]},"mark":{"type":"rect","color":"#C8C8C8"},"encoding":{"x":{"datum":1441375322000,"type":"temporal","axis":{"title":null},"scale":{"type":"utc","domain":[1441375341000,1441382169750],"nice":false,"padding":0}},"x2":{"datum":1441375341000},"y":{"datum":1.114351,"type":"quantitative","axis":null,"scale":{"domain":[1.108175,1.114223],"nice":false,"zero":false}},"y2":{"datum":1.107947}}},
{"data":{"values":[{}]},"mark":{"type":"rect","color":"#C8C8C8"},"encoding":{"x":{"datum":1441382338000,"type":"temporal","axis":{"title":null},"scale":{"type":"utc","domain":[1441375341000,1441382169750],"nice":false,"padding":0}},"x2":{"datum":1441382357000},"y":{"datum":1.114351,"type":"quantitative","axis":null,"scale":{"domain":[1.108175,1.114223],"nice":false,"zero":false}},"y2":{"datum":1.107947}}},
{"data":{"values":[{"heading":"EURUSD, m1 FxPro cTrader 15:47:34 (UTC+1) on Sep 4th, 2015"}]},"mark":{"type":"text","font":"DejaVu Sans Mono","fontSize":10,"color":"#111111","align":"left","baseline":"middle"},"encoding":{"x":{"datum":1441375341000,"type":"temporal","axis":{"title":null},"scale":{"type":"utc","domain":[1441375341000,1441382169750],"nice":false,"padding":0}},"y":{"datum":1.114284,"type":"quantitative","axis":null,"scale":{"domain":[1.108175,1.114223],"nice":false,"zero":false}},"text":{"field":"heading"}}},
{"data":{"values":[{}]},"mark":{"type":"rule","color":"#000000","strokeWidth":1},"encoding":{"x":{"datum":1441382128000,"type":"temporal","axis":{"title":null},"scale":{"type":"utc","domain":[1441375341000,1441382169750],"nice":false,"padding":0}},"y":{"datum":1.114156,"type":"quantitative","axis":null,"scale":{"domain":[1.108175,1.114223],"nice":false,"zero":false}},"y2":{"datum":1.113157}}},
{"data":{"values":[{}]},"mark":{"type":"rule","color":"#000000","strokeWidth":1},"encoding":{"x":{"datum":1441382109000,"type":"temporal","axis":{"title":null},"scale":{"type":"utc","domain":[1441375341000,1441382169750],"nice":false,"padding":0}},"x2":{"datum":1441382128000},"y":{"datum":1.114156,"type":"quantitative","axis":null,"scale":{"domain":[1.108175,1.114223],"nice":false,"zero":false}}}},
{"data":{"values":[{}]},"mark":{"type":"rule","color":"#000000","strokeWidth":1},"encoding":{"x":{"datum":1441382109000,"type":"temporal","axis":{"title":null},"scale":{"type":"utc","domain":[1441375341000,1441382169750],"nice":false,"padding":0}},"x2":{"datum":1441382128000},"y":{"datum":1.113157,"type":"quantitative","axis":null,"scale":{"domain":[1.108175,1.114223],"nice":false,"zero":false}}}},
{"data":{"values":[{"pips":"10 pips"}]},"mark":{"type":"text","angle":270,"font":"Liberation Sans","fontSize":10,"color":"#1A1A1A","align":"center","baseline":"middle"},"encoding":{"x":{"datum":1441382098000,"type":"temporal","axis":{"title":null},"scale":{"type":"utc","domain":[1441375341000,1441382169750],"nice":false,"padding":0}},"y":{"datum":1.113657,"type":"quantitative","axis":null,"scale":{"domain":[1.108175,1.114223],"nice":false,"zero":false}},"text":{"field":"pips"}}},
{"data":{"name":"quotes"},"mark":{"type":"point","filled":true,"opacity":1,"size":121,"shape":"M-4.1,0 L-3.5,-1 L3.6,-1 L4.1,-0.5 L4.1,0.5 L3.6,1 L-3.5,1 Z"},"encoding":{"x":{"datum":1441382235000,"type":"temporal","axis":{"title":null},"scale":{"type":"utc","domain":[1441375341000,1441382169750],"nice":false,"padding":0}},"y":{"field":"p","type":"quantitative","axis":null,"scale":{"domain":[1.108175,1.114223],"nice":false,"zero":false}},"color":{"field":"tag","type":"nominal","scale":null}}},
{"data":{"name":"quotes"},"mark":{"type":"text","font":"Liberation Sans","fontSize":10,"color":"#FFFFFF","align":"center","baseline":"middle"},"encoding":{"x":{"datum":1441382235000,"type":"temporal","axis":{"title":null},"scale":{"type":"utc","domain":[1441375341000,1441382169750],"nice":false,"padding":0}},"y":{"field":"p","type":"quantitative","axis":null,"scale":{"domain":[1.108175,1.114223],"nice":false,"zero":false}},"text":{"field":"label"}}},
{"data":{"values":[{}]},"mark":{"type":"rect","color":"#C8C8C8","cornerRadius":3},"encoding":{"x":{"datum":1441382249000,"type":"temporal","axis":{"title":null},"scale":{"type":"utc","domain":[1441375341000,1441382169750],"nice":false,"padding":0}},"x2":{"datum":1441382320000},"y":{"datum":1.114183,"type":"quantitative","axis":null,"scale":{"domain":[1.108175,1.114223],"nice":false,"zero":false}},"y2":{"datum":1.114062}}},
{"data":{"values":[{}]},"mark":{"type":"rect","color":"#DCDCDC","cornerRadius":3},"encoding":{"x":{"datum":1441382249000,"type":"temporal","axis":{"title":null},"scale":{"type":"utc","domain":[1441375341000,1441382169750],"nice":false,"padding":0}},"x2":{"datum":1441382320000},"y":{"datum":1.114029,"type":"quantitative","axis":null,"scale":{"domain":[1.108175,1.114223],"nice":false,"zero":false}},"y2":{"datum":1.113901}}},
{"data":{"values":[{}]},"mark":{"type":"point","filled":false,"opacity":1,"size":121,"stroke":"#222222","strokeWidth":1,"shape":"M-0.2,-1 L-1,-1 L-1,1 L1,1 L1,0.2 M-0.2,0.2 L1,-1 M0.2,-1 L1,-1 L1,-0.6"},"encoding":{"x":{"datum":1441382284000,"type":"temporal","axis":{"title":null},"scale":{"type":"utc","domain":[1441375341000,1441382169750],"nice":false,"padding":0}},"y":{"datum":1.114123,"type":"quantitative","axis":null,"scale":{"domain":[1.108175,1.114223],"nice":false,"zero":false}}}},
{"data":{"values":[{}]},"mark":{"type":"point","filled":false,"opacity":1,"size":144,"stroke":"#444444","strokeWidth":1,"shape":"M-1,-0.5 L-0.5,-0.5 L-0.3,-0.8 L0.3,-0.8 L0.5,-0.5 L1,-0.5 L1,0.7 L-1,0.7 Z M0.4,0.1 A0.4,0.4 0 1 1 -0.4,0.1 A0.4,0.4 0 1 1 0.4,0.1 Z"},"encoding":{"x":{"datum":1441382284000,"type":"temporal","axis":{"title":null},"scale":{"type":"utc","domain":[1441375341000,1441382169750],"nice":false,"padding":0}},"y":{"datum":1.113965,"type":"quantitative","axis":null,"scale":{"domain":[1.108175,1.114223],"nice":false,"zero":false}}}},
{"data":{"values":[{}]},"mark":{"type":"point","filled":true,"opacity":1,"size":144,"fill":"#FFFFFF","stroke":"#000000","strokeWidth":1,"shape":"M-2.4,-1 L-0.4,-1 L0,-1.83 L0.4,-1 L2.4,-1 L2.4,1 L-2.4,1 Z"},"encoding":{"x":{"datum":1441381620000,"type":"temporal","axis":{"title":null},"scale":{"type":"utc","domain":[1441375341000,1441382169750],"nice":false,"padding":0}},"y":{"datum":1.108188,"type":"quantitative","axis":null,"scale":{"domain":[1.108175,1.114223],"nice":false,"zero":false}}}},
{"data":{"values":[{"timer":"00:26"}]},"mark":{"type":"text","font":"Liberation Sans","fontSize":10,"color":"#111111","align":"center","baseline":"middle"},"encoding":{"x":{"datum":1441381620000,"type":"temporal","axis":{"title":null},"scale":{"type":"utc","domain":[1441375341000,1441382169750],"nice":false,"padding":0}},"y":{"datum":1.108188,"type":"quantitative","axis":null,"scale":{"domain":[1.108175,1.114223],"nice":false,"zero":false}},"text":{"field":"timer"}}},
{"data":{"values":[{}]},"mark":{"type":"point","filled":true,"opacity":1,"size":40,"color":"#999999","shape":"triangle-left"},"encoding":{"x":{"datum":1441375360000,"type":"temporal","axis":{"title":null},"scale":{"type":"utc","domain":[1441375341000,1441382169750],"nice":false,"padding":0}},"y":{"datum":1.108001,"type":"quantitative","axis":null,"scale":{"domain":[1.108175,1.114223],"nice":false,"zero":false}}}},
{"data":{"values":[{}]},"mark":{"type":"point","filled":true,"opacity":1,"size":40,"color":"#999999","shape":"triangle-right"},"encoding":{"x":{"datum":1441382316000,"type":"temporal","axis":{"title":null},"scale":{"type":"utc","domain":[1441375341000,1441382169750],"nice":false,"padding":0}},"y":{"datum":1.108001,"type":"quantitative","axis":null,"scale":{"domain":[1.108175,1.114223],"nice":false,"zero":false}}}},
{"data":{"values":[{}]},"mark":{"type":"rect","color":"#A6A6A6","cornerRadius":4},"encoding":{"x":{"datum":1441382181000,"type":"temporal","axis":{"title":null},"scale":{"type":"utc","domain":[1441375341000,1441382169750],"nice":false,"padding":0}},"x2":{"datum":1441382293000},"y":{"datum":1.108027,"type":"quantitative","axis":null,"scale":{"domain":[1.108175,1.114223],"nice":false,"zero":false}},"y2":{"datum":1.107974}}}
],
"resolve":{"scale":{"y":"independent"}}}
